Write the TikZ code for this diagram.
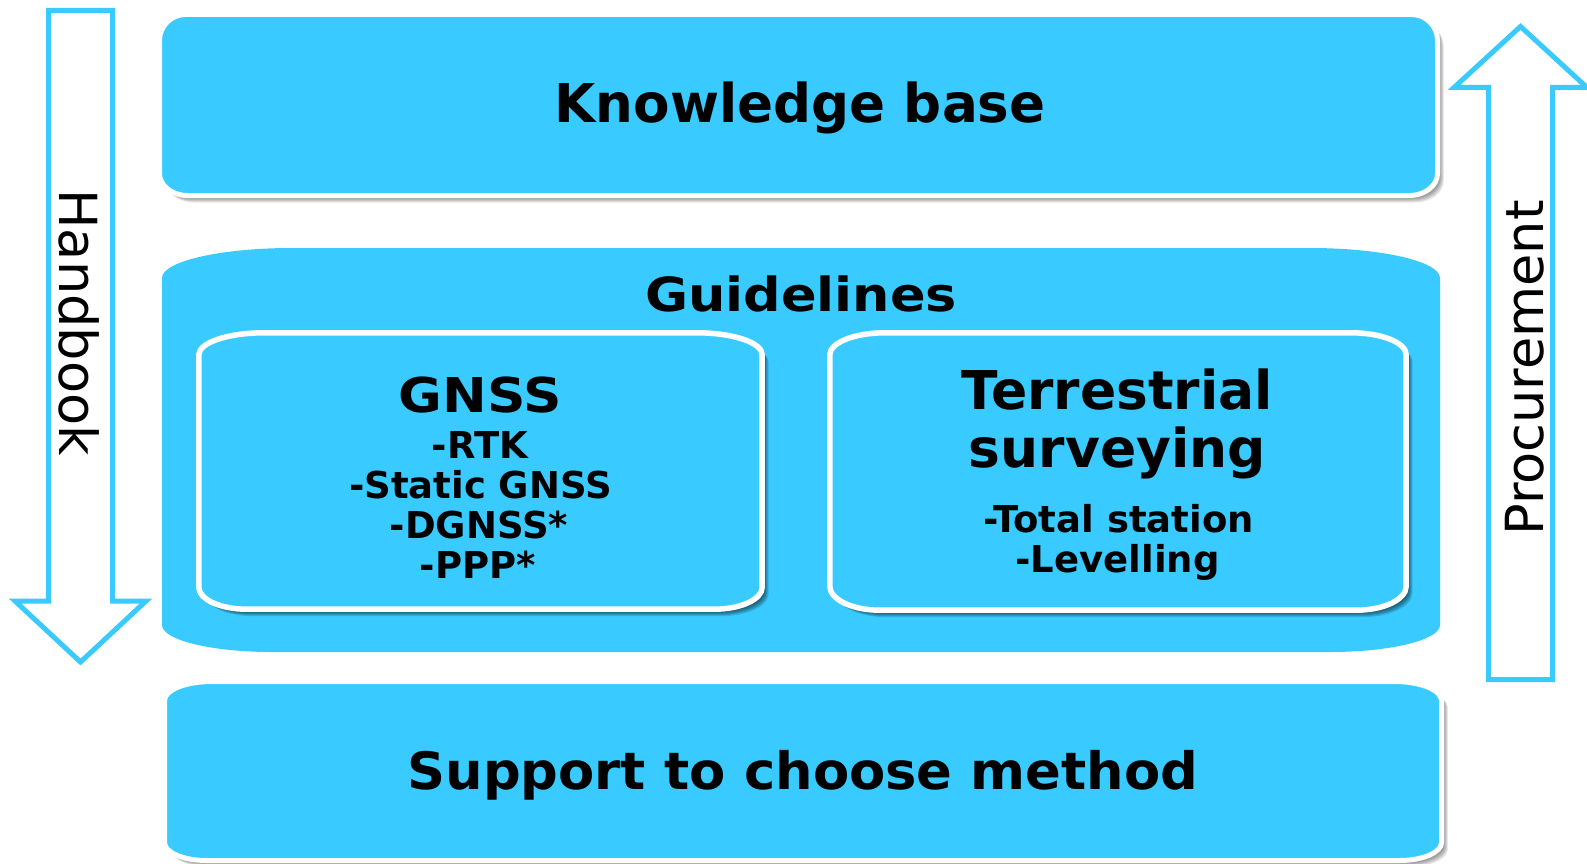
\documentclass[tikz,border=0pt]{standalone}
\usepackage{fontspec}
\setmainfont{DejaVu Sans}
\usepackage{graphicx}
\definecolor{sky}{RGB}{57,203,255}

% Box with elliptical corners: #1 options, #2 x1, #3 y1, #4 x2, #5 y2,
% #6/#7 top corner radii (x/y), #8/#9 bottom corner radii (x/y)
\newcommand\ebox[9]{%
  \path[#1] ({#2},{#3+#7}) .. controls ({#2},{#3+0.4477*#7}) and ({#2+0.4477*#6},{#3}) .. ({#2+#6},{#3})
    -- ({#4-#6},{#3}) .. controls ({#4-0.4477*#6},{#3}) and ({#4},{#3+0.4477*#7}) .. ({#4},{#3+#7})
    -- ({#4},{#5-#9}) .. controls ({#4},{#5-0.4477*#9}) and ({#4-0.4477*#8},{#5}) .. ({#4-#8},{#5})
    -- ({#2+#8},{#5}) .. controls ({#2+0.4477*#8},{#5}) and ({#2},{#5-0.4477*#9}) .. ({#2},{#5-#9})
    -- cycle;}
% Soft shadow below and right of such a box: #1 opacity step, then the 8 numbers
\newcommand\eshadow[9]{%
  \foreach \s in {1,...,7}{%
    \ebox{fill=black,opacity=#1,shift={(\s*0.9,\s*1.0)}}{#2}{#3}{#4}{#5}{#6}{#7}{#8}{#9}}}

\begin{document}
\begin{tikzpicture}[x=1pt,y=-1pt,
  head/.style={anchor=base,inner sep=0pt,font=\bfseries\fontsize{53.5}{60}\selectfont},
  item/.style={anchor=base,inner sep=0pt,font=\bfseries\fontsize{37}{40}\selectfont},
  side/.style={anchor=base,inner sep=0pt,font=\fontsize{52.5}{56}\selectfont},
  frame/.style={fill=sky,draw=white,line width=5pt},
  hollow/.style={draw=sky,fill=white,line width=5pt,line join=miter}]
\useasboundingbox (0,0) rectangle (1587,864);
\fill[white] (0,0) rectangle (1587,864);

% knowledge base layer
\eshadow{0.09}{159.5}{14.5}{1437.5}{195.5}{26}{26}{28}{22}
\ebox{frame}{159.5}{14.5}{1437.5}{195.5}{26}{26}{28}{22}

% guidelines layer
\ebox{fill=sky}{162}{248}{1440}{652}{130}{30}{110}{27}

% support layer
\eshadow{0.09}{164.5}{681.5}{1441.5}{860.5}{47}{19}{42}{18}
\ebox{frame}{164.5}{681.5}{1441.5}{860.5}{47}{19}{42}{18}

% method boxes inside the guidelines
\eshadow{0.13}{198.8}{332.8}{762.2}{609.2}{65}{22}{48}{22}
\ebox{frame,line width=5.5pt}{198.8}{332.8}{762.2}{609.2}{65}{22}{48}{22}
\eshadow{0.13}{829.8}{332.8}{1406.2}{610.2}{55}{22}{50}{24}
\ebox{frame,line width=5.5pt}{829.8}{332.8}{1406.2}{610.2}{55}{22}{50}{24}

% side arrows
\draw[hollow] (48.5,10.5) -- (112.5,10.5) -- (112.5,601) -- (146,601) -- (80.5,662)
  -- (15,601) -- (48.5,601) -- cycle;
\draw[hollow] (1488.5,679.5) -- (1552.5,679.5) -- (1552.5,87.5) -- (1587,87.5) -- (1520.5,26.5)
  -- (1454,87.5) -- (1488.5,87.5) -- cycle;

% labels
\node[head] (kb) at (800,123) {\resizebox{491pt}{\height}{Knowledge base}};
\node[head,font=\bfseries\fontsize{47}{50}\selectfont] (gl) at (801,311) {\resizebox{312pt}{\height}{Guidelines}};
\node[head,font=\bfseries\fontsize{51.5}{56}\selectfont] (sup) at (803,789) {\resizebox{791pt}{\height}{Support to choose method}};

\node[head,font=\bfseries\fontsize{48}{52}\selectfont] (gnss) at (480,412) {\resizebox{163pt}{\height}{GNSS}};
\node[item] (rtk) at (480,458) {-RTK};
\node[item] (static) at (480.5,498) {-Static GNSS};
\node[item] (dgnss) at (479,538) {-DGNSS*};
\node[item] (ppp) at (478,578) {-PPP*};

\node[head] (ter) at (1117.5,409) {Terrestrial};
\node[head] (surv) at (1117.5,467) {surveying};
\node[item] (ts) at (1118.5,532) {-Total station};
\node[item] (lev) at (1117.5,572) {-Levelling};

\node[side,rotate=-90] (hb) at (59,322.5) {Handbook};
\node[side,rotate=90] (pc) at (1543,368) {Procurement};
\end{tikzpicture}
\end{document}
